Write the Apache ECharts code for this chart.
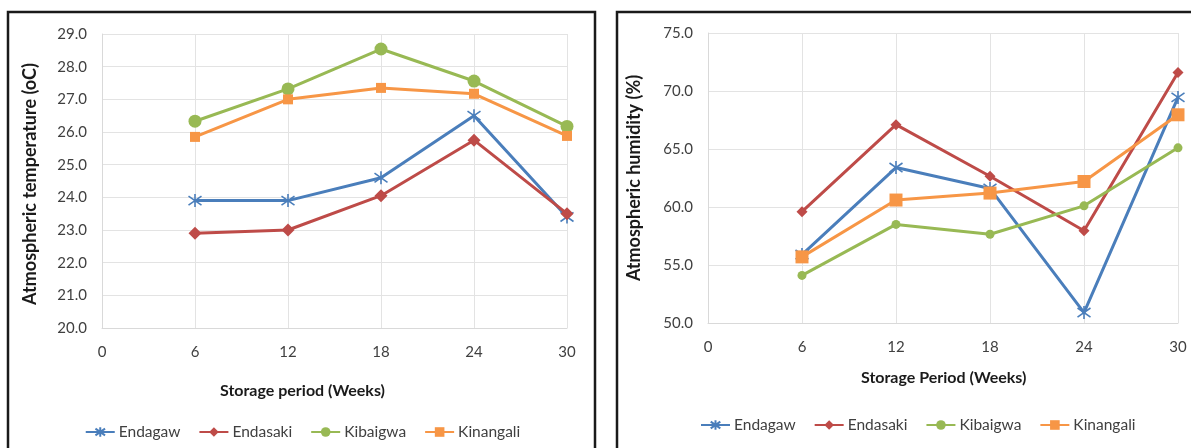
<!DOCTYPE html>
<html>
<head>
<meta charset="utf-8">
<script src="https://cdn.jsdelivr.net/npm/echarts@6/dist/echarts.min.js"></script>
<style>
html,body{margin:0;padding:0;background:#fff;}
#c1{position:absolute;left:0;top:0;width:605px;height:448px;}
#c2{position:absolute;left:605px;top:0;width:586px;height:448px;}
</style>
</head>
<body>
<div id="c1"></div>
<div id="c2"></div>
<script>
var weeks = [6, 12, 18, 24, 30];
var seriesNames = ['Endagaw', 'Endasaki', 'Kibaigwa', 'Kinangali'];
var xTicks = [0, 6, 12, 18, 24, 30];

// Atmospheric temperature (oC)
var tempEndagaw   = [23.9, 23.9, 24.6, 26.5, 23.4];
var tempEndasaki  = [22.9, 23.0, 24.05, 25.75, 23.5];
var tempKibaigwa  = [26.33, 27.32, 28.54, 27.56, 26.17];
var tempKinangali = [25.85, 27.0, 27.35, 27.17, 25.88];

// Atmospheric humidity (%)
var humEndagaw   = [55.9, 63.4, 61.6, 50.9, 69.45];
var humEndasaki  = [59.6, 67.1, 62.65, 57.95, 71.6];
var humKibaigwa  = [54.1, 58.5, 57.65, 60.1, 65.1];
var humKinangali = [55.7, 60.6, 61.2, 62.2, 67.95];

var colors = ['#4A7EBB', '#BE4B48', '#98B954', '#F79646'];
var FONT = 'Lato, "Open Sans", sans-serif';
var starPath = 'path://M10,0L10,20M3,3L17,17M3,17L17,3';

function pairs(vals){ return weeks.map(function(w,i){ return [w, vals[i]]; }); }

function makeSeries(dataArr, sizes){
  var syms = [starPath, 'diamond', 'circle', 'rect'];
  return seriesNames.map(function(n, i){
    var s = {
      name: n, type: 'line', data: pairs(dataArr[i]),
      symbol: syms[i], symbolSize: sizes[i],
      lineStyle: {color: colors[i], width: 3},
      itemStyle: {color: colors[i], borderColor: colors[i], borderWidth: i === 0 ? 1.6 : 0},
      z: 2 + i, animation: false
    };
    if (i === 0) { s.itemStyle.color = 'rgba(0,0,0,0)'; }
    return s;
  });
}

function makeOption(cfg){
  return {
    animation: false,
    graphic: [
      {type: 'rect', shape: {x: cfg.frameX, y: 12, width: cfg.frameW, height: 460},
       style: {fill: 'none', stroke: '#1a1a1a', lineWidth: 2.5}, z: 10},
      {type: 'text', left: cfg.xTitleX, top: cfg.xTitleY,
       style: {text: cfg.xTitle, font: 'bold 16px ' + FONT, fill: '#1a1a1a', textAlign: 'center'}},
      {type: 'text', rotation: Math.PI/2, x: cfg.yTitleX, y: cfg.yTitleY,
       style: {text: cfg.yTitle, font: 'bold 18px ' + FONT, fill: '#1a1a1a', align: 'center', verticalAlign: 'middle'}}
    ],
    legend: {
      left: cfg.legendLeft, top: cfg.legendTop, itemGap: 18, itemWidth: 29, itemHeight: 12,
      textStyle: {fontFamily: FONT, fontSize: 15.5, color: '#404040', padding: [0, 0, 0, -1]},
      data: seriesNames, selectedMode: false
    },
    grid: {left: cfg.gl, right: cfg.gr, top: cfg.gt, bottom: cfg.gb, containLabel: false},
    xAxis: {
      type: 'value', min: xTicks[0], max: xTicks[xTicks.length-1], interval: 6,
      axisLine: {lineStyle: {color: '#d9d9d9'}}, axisTick: {show: false},
      axisLabel: {fontFamily: FONT, fontSize: 15, color: '#404040', margin: 17},
      splitLine: {show: true, lineStyle: {color: '#e3e3e3'}}
    },
    yAxis: {
      type: 'value', min: cfg.ymin, max: cfg.ymax, interval: cfg.yint,
      axisLine: {show: true, lineStyle: {color: '#d9d9d9'}}, axisTick: {show: false},
      axisLabel: {fontFamily: FONT, fontSize: 15, color: '#404040', margin: 15,
                  formatter: function(v){ return v.toFixed(1); }},
      splitLine: {show: true, lineStyle: {color: '#e3e3e3'}}
    },
    series: makeSeries(cfg.data, cfg.sizes)
  };
}

var c1 = echarts.init(document.getElementById('c1'));
c1.setOption(makeOption({
  frameX: 8, frameW: 587,
  xTitle: 'Storage period (Weeks)', xTitleX: 'center', xTitleY: 383,
  yTitle: 'Atmospheric temperature (oC)', yTitleX: 30, yTitleY: 184,
  legendLeft: 'center', legendTop: 419,
  gl: 102, gr: 38, gt: 34, gb: 120,
  ymin: 20, ymax: 29, yint: 1,
  data: [tempEndagaw, tempEndasaki, tempKibaigwa, tempKinangali],
  sizes: [13, 13, 13, 10]
}));

var c2 = echarts.init(document.getElementById('c2'));
c2.setOption(makeOption({
  frameX: 12, frameW: 600,
  xTitle: 'Storage Period (Weeks)', xTitleX: 256, xTitleY: 370,
  yTitle: 'Atmospheric humidity (%)', yTitleX: 29, yTitleY: 178,
  legendLeft: 90, legendTop: 412,
  gl: 103, gr: 13, gt: 33, gb: 125,
  ymin: 50, ymax: 75, yint: 5,
  data: [humEndagaw, humEndasaki, humKibaigwa, humKinangali],
  sizes: [13, 11, 9, 13]
}));
</script>
</body>
</html>
